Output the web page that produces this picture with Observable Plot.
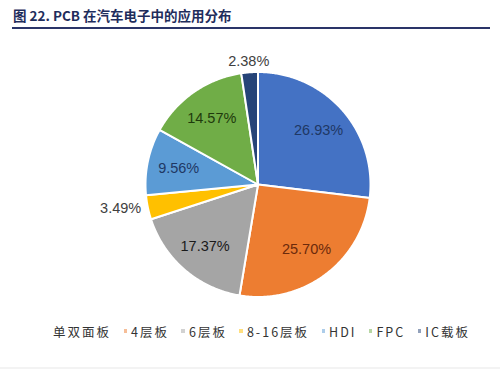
<!DOCTYPE html>
<html>
<head>
<meta charset="utf-8">
<script src="https://cdn.jsdelivr.net/npm/d3@7"></script>
<script src="https://cdn.jsdelivr.net/npm/@observablehq/plot@0.6"></script>
<style>
  html, body { margin: 0; padding: 0; background: #fff; }
  body { width: 500px; height: 371px; overflow: hidden; position: relative; }
  #title {
    position: absolute; left: 13px; top: 5px;
    font: bold 13.5px "Noto Sans CJK SC", sans-serif; color: #1f2d5c; letter-spacing: 0px;
  }
  #rule { position: absolute; left: 12px; top: 27px; width: 478px; height: 1.5px; background: #2a3468; }
  #chart { position: absolute; left: 0; top: 32px; }
  #legend {
    position: absolute; left: 53px; top: 320px; height: 22px; display: flex; align-items: center;
    font: 12.5px "Noto Sans CJK SC", sans-serif; color: #333; letter-spacing: 2px; white-space: nowrap;
  }
  #legend .item { display: flex; align-items: center; margin-right: 12.5px; }
  #legend .sw { width: 3.5px; height: 3.5px; margin-right: 4px; opacity: 0.5; }
  #bottomrule { position: absolute; left: 0; top: 367px; width: 500px; height: 2px; background: #f3f3f3; }
</style>
</head>
<body>
<div id="title">图 22. PCB 在汽车电子中的应用分布</div>
<div id="rule"></div>
<div id="chart"></div>
<div id="legend"></div>
<div id="bottomrule"></div>
<script>
const categories = ["单双面板", "4层板", "6层板", "8-16层板", "HDI", "FPC", "IC载板"];
const shares = [26.93, 25.70, 17.37, 3.49, 9.56, 14.57, 2.38];
const labels = ["26.93%", "25.70%", "17.37%", "3.49%", "9.56%", "14.57%", "2.38%"];

const palette = ["#4472C4", "#ED7D31", "#A5A5A5", "#FFC000", "#5B9BD5", "#70AD47", "#264478"];
const labelColors = ["#1f3864", "#6b2a0c", "#1a1a1a", "#404040", "#1f3864", "#1e3a0c", "#404040"];
const outside = [false, false, false, true, false, false, true];

const W = 500, H = 285, cx = 257.5, cy = 152, R = 112.5;

const arcs = d3.pie().sort(null).value(d => d.v)(categories.map((c, i) => ({c, v: shares[i], i})));

const polys = [];
for (const a of arcs) {
  const c = a.data.c;
  polys.push({c, x: 0, y: 0});
  const n = Math.max(4, Math.ceil((a.endAngle - a.startAngle) / 0.01));
  for (let k = 0; k <= n; k++) {
    const t = a.startAngle + (a.endAngle - a.startAngle) * k / n;
    polys.push({c, x: Math.sin(t), y: Math.cos(t)});
  }
}

const labelData = arcs.map(a => {
  const i = a.data.i;
  const m = (a.startAngle + a.endAngle) / 2;
  const s = Math.sin(m);
  let r = 0.72, anchor = "middle";
  if (outside[i]) {
    if (Math.abs(s) > 0.5) { r = 1.06; anchor = s < 0 ? "end" : "start"; }
    else { r = 1.10; }
  }
  return {x: r * s, y: r * Math.cos(m), text: labels[i], color: labelColors[i], anchor};
});

const plot = Plot.plot({
  width: W, height: H,
  margin: 0,
  x: {domain: [-1, 1], range: [cx - R, cx + R], axis: null},
  y: {domain: [-1, 1], range: [cy + R, cy - R], axis: null},
  color: {domain: categories, range: palette},
  style: {background: "transparent", overflow: "visible"},
  marks: [
    Plot.line(polys, {x: "x", y: "y", z: "c", fill: "c", stroke: "white", strokeWidth: 2, strokeLinejoin: "round", curve: "linear-closed"}),
    ...labelData.map(l => Plot.text([l], {
      x: "x", y: "y", text: "text", fill: l.color, textAnchor: l.anchor,
      fontSize: 14.5, fontFamily: "Liberation Sans, Arial, sans-serif"
    }))
  ]
});
document.getElementById("chart").appendChild(plot);

const legend = document.getElementById("legend");
categories.forEach((c, i) => {
  const item = document.createElement("div");
  item.className = "item";
  if (i > 0) {
    const sw = document.createElement("span");
    sw.className = "sw";
    sw.style.background = palette[i];
    item.appendChild(sw);
  }
  const t = document.createElement("span");
  t.textContent = c;
  item.appendChild(t);
  legend.appendChild(item);
});
</script>
</body>
</html>
